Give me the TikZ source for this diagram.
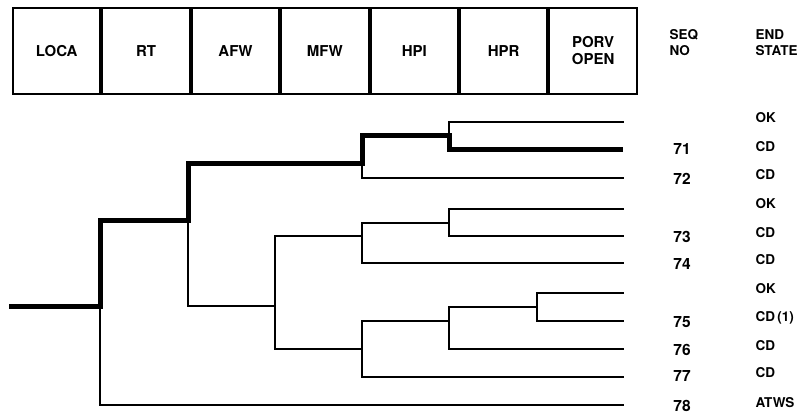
\documentclass[tikz,border=0pt]{standalone}
\usepackage{fontspec}
\setmainfont{TeX Gyre Heros}
\usetikzlibrary{positioning}

\tikzset{
  branch/.style={line width=1.9pt, line cap=rect},
  critical/.style={line width=5pt, line join=miter, line cap=butt},
  headbox/.style={draw, line width=2pt, minimum width=87.4pt, minimum height=86pt,
    inner sep=0pt, anchor=north west, font=\bfseries\fontsize{15}{17}\selectfont, align=center},
  seqno/.style={font=\bfseries\fontsize{15.5}{17}\selectfont},
  endstate/.style={anchor=west, font=\bfseries\fontsize{13.5}{15}\selectfont},
  colhead/.style={anchor=west, align=left, font=\bfseries\fontsize{13.5}{16}\selectfont}
}

\begin{document}
\begin{tikzpicture}[x=1pt, y=-1pt]
            \useasboundingbox (0,0) rectangle (812,415);

            % event headings
            \node[headbox] (loca) at (12,7) {LOCA};
            \node[headbox, right=0pt of loca] (rt) {RT};
            \node[headbox, right=0pt of rt] (afw) {AFW};
            \node[headbox, right=0pt of afw] (mfw) {MFW};
            \node[headbox, right=0pt of mfw] (hpi) {HPI};
            \node[headbox, right=0pt of hpi] (hpr) {HPR};
            \node[headbox, right=0pt of hpr] (porv) {PORV\\OPEN};

            \node[colhead] (seqhead) at (666,43) {SEQ\\NO};
            \node[colhead] (endhead) at (752,43) {END\\STATE};

            % branch points
            \coordinate (S) at (9,306);
            \coordinate (A) at (100,306);
            \coordinate (Au) at (100,220);
            \coordinate (Ad) at (100,405);
            \coordinate (Bu) at (188,163);
            \coordinate (B) at (188,220);
            \coordinate (Bd) at (188,306);
            \coordinate (C) at (362,163);
            \coordinate (Cu) at (362,135);
            \coordinate (Cd) at (362,178);
            \coordinate (D) at (449,135);
            \coordinate (Du) at (449,122);
            \coordinate (Dd) at (449,149);
            \coordinate (E) at (275,306);
            \coordinate (Eu) at (275,236);
            \coordinate (Ed) at (275,349);
            \coordinate (F) at (362,236);
            \coordinate (Fu) at (362,223);
            \coordinate (Fd) at (362,263);
            \coordinate (G) at (449,223);
            \coordinate (Gu) at (449,209);
            \coordinate (Gd) at (449,236);
            \coordinate (H) at (362,349);
            \coordinate (Hu) at (362,321);
            \coordinate (Hd) at (362,377);
            \coordinate (I) at (449,321);
            \coordinate (Iu) at (449,307);
            \coordinate (Id) at (449,349);
            \coordinate (J) at (537,307);
            \coordinate (Ju) at (537,293);
            \coordinate (Jd) at (537,321);

            % sequence ends
            \coordinate (e1) at (623,122);
            \coordinate (e2) at (623,149);
            \coordinate (e3) at (623,178);
            \coordinate (e4) at (623,209);
            \coordinate (e5) at (623,236);
            \coordinate (e6) at (623,263);
            \coordinate (e7) at (623,293);
            \coordinate (e8) at (623,321);
            \coordinate (e9) at (623,349);
            \coordinate (e10) at (623,377);
            \coordinate (e11) at (623,405);

            % thin branches
            \draw[branch] (A)--(Ad)--(e11);
            \draw[branch] (B)--(Bd)--(E);
            \draw[branch] (C)--(Cd)--(e3);
            \draw[branch] (D)--(Du)--(e1);
            \draw[branch] (Eu)--(Ed);
            \draw[branch] (Eu)--(F);
            \draw[branch] (Fu)--(Fd)--(e6);
            \draw[branch] (Fu)--(G);
            \draw[branch] (Gu)--(Gd)--(e5);
            \draw[branch] (Gu)--(e4);
            \draw[branch] (Ed)--(H);
            \draw[branch] (Hu)--(Hd)--(e10);
            \draw[branch] (Hu)--(I);
            \draw[branch] (Iu)--(Id)--(e9);
            \draw[branch] (Iu)--(J);
            \draw[branch] (Ju)--(Jd)--(e8);
            \draw[branch] (Ju)--(e7);

            % dominant sequence
            \draw[critical] (S)--(A)--(Au)--(B)--(Bu)--(C)--(Cu)--(D)--(Dd)--(e2);

            % labels
            \node[seqno] (n71) at (682,149) {71};
            \node[seqno] (n72) at (682,179) {72};
            \node[seqno] (n73) at (682,237) {73};
            \node[seqno] (n74) at (682,264) {74};
            \node[seqno] (n75) at (682,322) {75};
            \node[seqno] (n76) at (682,350) {76};
            \node[seqno] (n77) at (682,376) {77};
            \node[seqno] (n78) at (682,406) {78};

            \node[endstate] (s1) at (752,118) {OK};
            \node[endstate] (s2) at (752,147) {CD};
            \node[endstate] (s3) at (752,175) {CD};
            \node[endstate] (s4) at (752,204) {OK};
            \node[endstate] (s5) at (752,233) {CD};
            \node[endstate] (s6) at (752,260) {CD};
            \node[endstate] (s7) at (752,289) {OK};
            \node[endstate] (s8) at (752,318) {CD\,(1)};
            \node[endstate] (s9) at (752,346) {CD};
            \node[endstate] (s10) at (752,373) {CD};
            \node[endstate] (s11) at (752,403) {ATWS};
        \end{tikzpicture}
\end{document}
